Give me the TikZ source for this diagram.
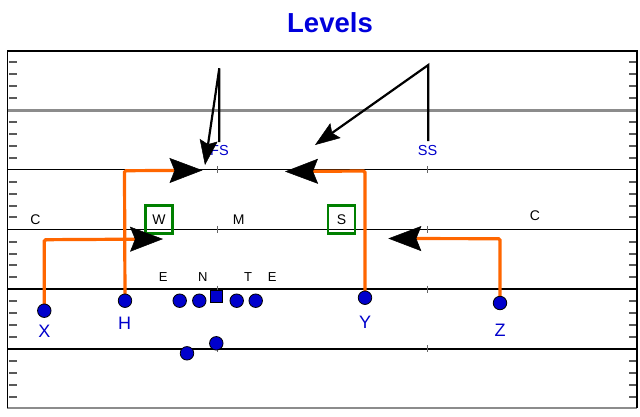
\documentclass[tikz,border=0pt]{standalone}
\usepackage{fontspec}
\setmainfont{Liberation Sans}
\usetikzlibrary{arrows.meta}
\definecolor{pblue}{RGB}{0,0,204}
\definecolor{tblue}{RGB}{0,0,220}
\definecolor{route}{RGB}{255,102,0}
\definecolor{zone}{RGB}{0,128,0}
\definecolor{fgray}{RGB}{140,140,140}
\tikzset{
  player/.style={circle,draw=black,line width=0.8pt,fill=pblue,minimum size=13.5pt,inner sep=0pt},
  center/.style={rectangle,draw=black,line width=0.8pt,fill=pblue,minimum size=12pt,inner sep=0pt},
  plabel/.style={text=pblue,font=\fontsize{18}{18}\selectfont,inner sep=0pt},
  dlabel/.style={text=pblue,font=\fontsize{14.5}{14.5}\selectfont,inner sep=0pt},
  blabel/.style={text=black,font=\fontsize{14}{14}\selectfont,inner sep=0pt},
  olabel/.style={text=black,font=\fontsize{13}{13}\selectfont,inner sep=0pt},
  zonebox/.style={draw=zone,line width=2.8pt,minimum width=27pt,minimum height=28pt,inner sep=0pt,font=\fontsize{14}{14}\selectfont},
  routeline/.style={draw=route,line width=3.2pt,rounded corners=1.5pt,
    -{Stealth[length=33pt,width=25pt,inset=5pt,color=black,line width=0.5pt]}},
  readline/.style={draw=black,line width=2.2pt,
    -{Stealth[length=25pt,width=18pt,inset=4pt,color=black,line width=0.5pt]}},
  fieldline/.style={draw=black,line width=1.5pt},
  hash/.style={draw=black!65,line width=2pt},
  midtick/.style={draw=black!60,line width=1pt}
}
\begin{document}
\begin{tikzpicture}[x=1pt,y=-1pt]
\useasboundingbox (0,0) rectangle (640,416);
\fill[white] (0,0) rectangle (640,416);
% title
\node[text=tblue,font=\fontsize{27.5}{27.5}\selectfont\bfseries,inner sep=0pt] (title) at (330,23) {Levels};
% hash marks
\foreach \b in {110,169.6,229.3,289.2,348.8,408.4}{
  \foreach \k in {1,2,3,4}{
    \pgfmathsetmacro{\yy}{\b-11.9*\k}
    \draw[hash] (9.3,\yy) -- (16.8,\yy);
    \draw[hash] (629.3,\yy) -- (636.7,\yy);
  }
}
% field lines
\draw[draw=fgray,line width=3pt] (7.3,110) -- (636.7,110);
\foreach \y in {169.6,229.3,289.2,348.8}{
  \draw[fieldline] (7.3,\y) -- (636.7,\y);
  \draw[midtick] (217.3,\y-3.5) -- (217.3,\y+3.5);
  \draw[midtick] (427.8,\y-3.5) -- (427.8,\y+3.5);
}
\draw[draw=fgray,line width=2.8pt] (7.3,408) -- (636.7,408);
\draw[line width=1.6pt] (7.3,408) -- (7.3,51) -- (636.7,51) -- (636.7,408);
% labels on field
\node[blabel] (cl) at (35.5,220) {C};
\node[blabel] (cr) at (535,216) {C};
\node[blabel] (m) at (238.7,219.7) {M};
\node[olabel] (e1) at (163.3,277.5) {E};
\node[olabel] (n) at (202.8,277.5) {N};
\node[olabel] (t) at (248,277.5) {T};
\node[olabel] (e2) at (272.3,277.5) {E};
\node[zonebox] (w) at (159,219.7) {W};
\node[zonebox] (s) at (341.5,219.7) {S};
% defenders
\node[dlabel] (fs) at (219.5,150.5) {FS};
\node[dlabel] (ss) at (427.5,150.5) {SS};
\coordinate (fsdeep) at (219.3,68.3);
\coordinate (fsend) at (205,165);
\coordinate (ssdeep) at (428.3,65);
\coordinate (ssend) at (315,145);
\draw[readline] (219.3,142) -- (fsdeep) -- (fsend);
\draw[readline] (428.3,141) -- (ssdeep) -- (ssend);
% routes corners
\coordinate (xc) at (44.3,239.7);
\coordinate (xend) at (163,239);
\coordinate (hc) at (124.5,170.7);
\coordinate (hend) at (202.5,170.3);
\coordinate (yc) at (365,171);
\coordinate (yend) at (285,171.5);
\coordinate (zc) at (500,238.7);
\coordinate (zend) at (388.3,238.5);
% players (positions)
\coordinate (xp) at (44.3,310.7);
\coordinate (hp) at (125,300.7);
\coordinate (yp) at (365,297.7);
\coordinate (zp) at (500,303);
\draw[routeline] (xp) -- (xc) -- (xend);
\draw[routeline] (hp) -- (hc) -- (hend);
\draw[routeline] (yp) -- (yc) -- (yend);
\draw[routeline] (zp) -- (zc) -- (zend);
\node[player] (x) at (xp) {};
\node[player] (h) at (hp) {};
\node[player] (y) at (yp) {};
\node[player] (z) at (zp) {};
\node[plabel] (xl) at (44.3,331.5) {X};
\node[plabel] (hl) at (124.5,323) {H};
\node[plabel] (yl) at (365,322.5) {Y};
\node[plabel] (zl) at (500,330) {Z};
% line
\node[player] (lt) at (179.7,300.7) {};
\node[player] (lg) at (199.3,300.7) {};
\node[center] (c) at (216.3,296.3) {};
\node[player] (rg) at (236.7,300.7) {};
\node[player] (rt) at (255.7,300.7) {};
\node[player] (qb) at (216.3,343.3) {};
\node[player] (rb) at (187,353.3) {};
\end{tikzpicture}
\end{document}
